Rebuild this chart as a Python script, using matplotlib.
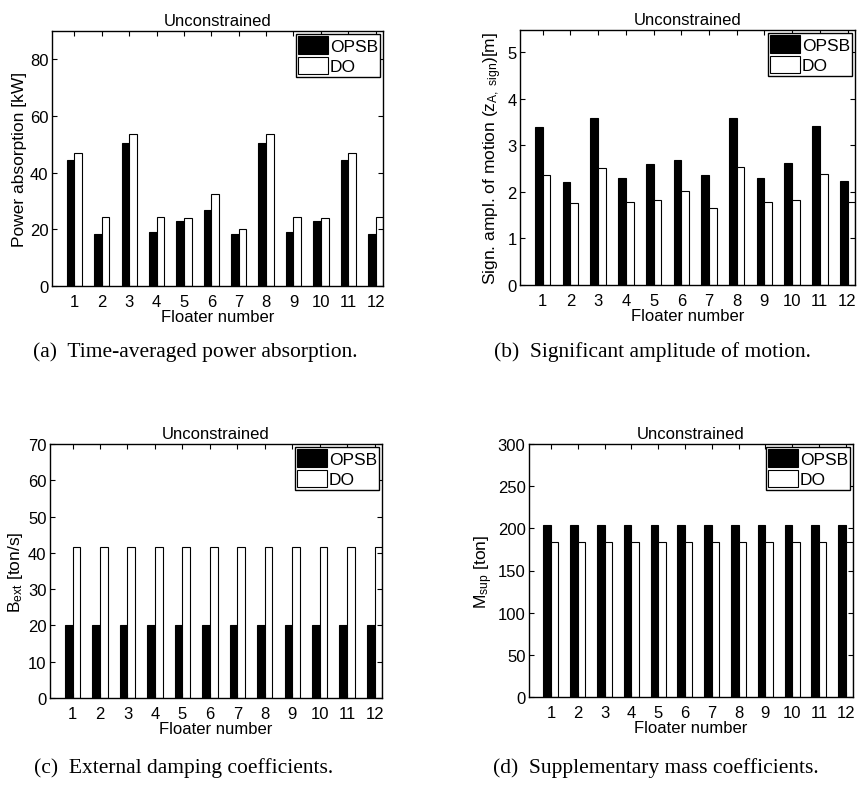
import numpy as np
import matplotlib.pyplot as plt

# -- Data ---------------------------------------------------------------------
FLOATERS = np.arange(1, 13)

POWER_OPSB = [44.5, 18.2, 50.4, 18.9, 22.9, 26.7, 18.5, 50.4, 18.9, 22.9, 44.5, 18.2]
POWER_DO   = [47.0, 24.5, 53.5, 24.5, 24.0, 32.4, 20.0, 53.5, 24.5, 24.0, 47.0, 24.5]

AMPL_OPSB = [3.39, 2.22, 3.59, 2.29, 2.60, 2.68, 2.35, 3.59, 2.30, 2.61, 3.41, 2.24]
AMPL_DO   = [2.37, 1.76, 2.51, 1.78, 1.82, 2.01, 1.66, 2.53, 1.79, 1.83, 2.39, 1.78]

BEXT_OPSB = [20.0] * 12
BEXT_DO   = [41.7] * 12

MSUP_OPSB = [204.5] * 12
MSUP_DO   = [183.6] * 12

W, H = 857, 804
BAR_W = 0.28
SANS = 'Liberation Sans'
SERIF = 'Liberation Serif'

plt.rcParams['font.family'] = SANS
plt.rcParams['axes.linewidth'] = 1.0
plt.rcParams['mathtext.fontset'] = 'custom'
plt.rcParams['mathtext.rm'] = SANS
plt.rcParams['mathtext.it'] = SANS


def px_axes(fig, left, right, top, bottom):
    return fig.add_axes([left / W, (H - bottom) / H, (right - left) / W, (bottom - top) / H])


def panel(ax, opsb, do, ylim, yticks, ylabel):
    ax.bar(FLOATERS - BAR_W / 2, opsb, BAR_W, color='black', edgecolor='black',
           lw=0.8, label='OPSB')
    ax.bar(FLOATERS + BAR_W / 2, do, BAR_W, color='white', edgecolor='black',
           lw=0.8, label='DO')
    ax.set_xlim(0.18, 12.27)
    ax.set_ylim(*ylim)
    ax.set_xticks(FLOATERS)
    ax.set_yticks(yticks)
    ax.tick_params(direction='in', top=True, right=True, length=3.5,
                   labelsize=12, pad=2.5)
    ax.tick_params(axis='x', pad=5.5)
    ax.set_title('Unconstrained', fontsize=12, pad=4)
    ax.set_xlabel('Floater number', fontsize=12, labelpad=0)
    ax.set_ylabel(ylabel, fontsize=12.5, labelpad=2)
    ax.legend(loc='upper right', fontsize=12.5, fancybox=False, edgecolor='black',
              framealpha=1, borderpad=0.15, borderaxespad=0.15, labelspacing=0.15,
              handlelength=1.7, handleheight=1.2, handletextpad=0.1)


fig = plt.figure(figsize=(W / 100, H / 100), dpi=100)

ax_a = px_axes(fig, 52, 383, 32, 287)
panel(ax_a, POWER_OPSB, POWER_DO, (0, 90), [0, 20, 40, 60, 80], 'Power absorption [kW]')

ax_b = px_axes(fig, 520, 855, 31, 286)
panel(ax_b, AMPL_OPSB, AMPL_DO, (0, 5.47), [0, 1, 2, 3, 4, 5],
      r'Sign. ampl. of motion ($\mathrm{z_{A,\ sign}}$)[m]')

ax_c = px_axes(fig, 50, 382, 445, 699)
panel(ax_c, BEXT_OPSB, BEXT_DO, (0, 70), np.arange(0, 71, 10), r'B$_{\mathrm{ext}}$ [ton/s]')

ax_d = px_axes(fig, 529, 853, 445, 698)
panel(ax_d, MSUP_OPSB, MSUP_DO, (0, 300), np.arange(0, 301, 50), r'M$_{\mathrm{sup}}$ [ton]')

# -- Captions -----------------------------------------------------------------
caps = [(33, 352, '(a)  Time-averaged power absorption.'),
        (494, 352, '(b)  Significant amplitude of motion.'),
        (34, 768, '(c)  External damping coefficients.'),
        (493, 768, '(d)  Supplementary mass coefficients.')]
for x, y, t in caps:
    fig.text(x / W, 1 - y / H, t, family=SERIF, fontsize=15.5, ha='left', va='center')

fig.savefig('out.png', dpi=100)
